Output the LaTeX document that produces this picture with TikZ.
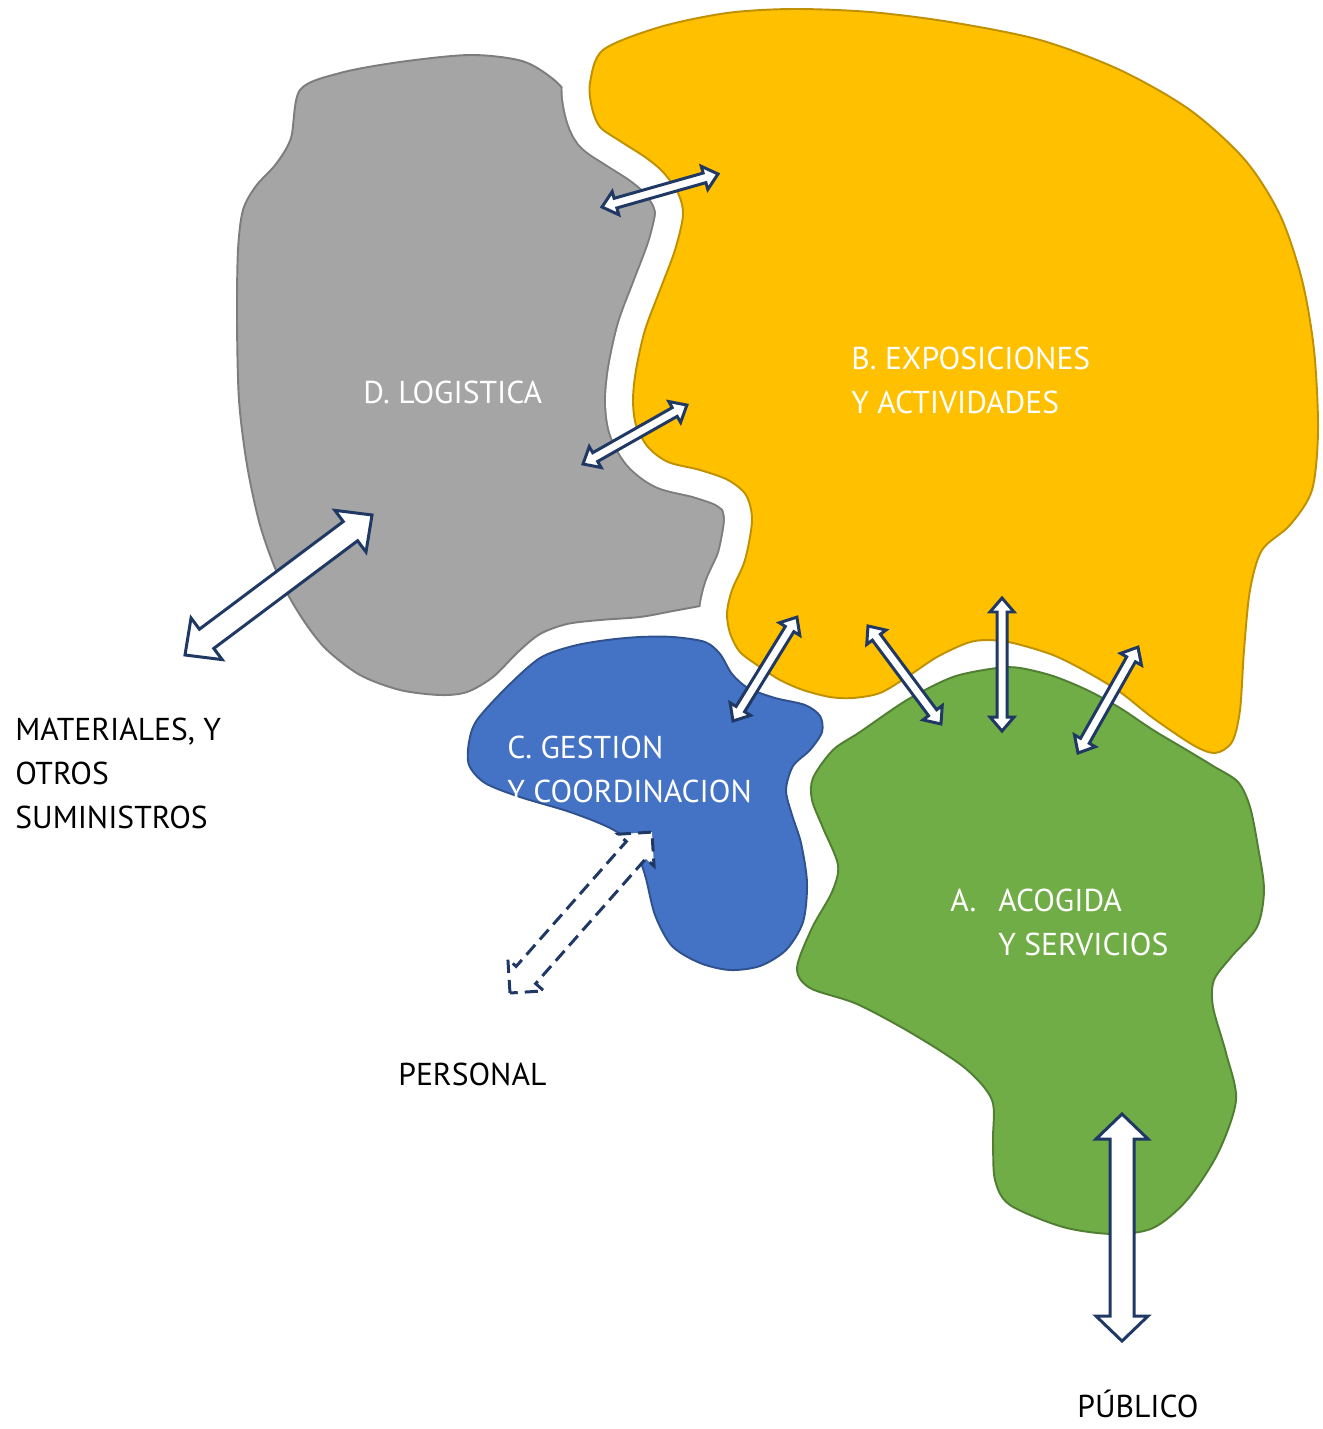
\documentclass[tikz,border=0pt]{standalone}
\usepackage{fontspec}
\setmainfont{PT Sans}
\usetikzlibrary{calc}
\definecolor{gris}{RGB}{165,165,165}
\definecolor{grisbd}{RGB}{125,125,125}
\definecolor{oro}{RGB}{255,192,0}
\definecolor{orobd}{RGB}{191,144,0}
\definecolor{azul}{RGB}{68,114,196}
\definecolor{azulbd}{RGB}{47,82,143}
\definecolor{verde}{RGB}{112,173,71}
\definecolor{verdebd}{RGB}{80,126,50}
\definecolor{marino}{RGB}{31,56,100}
\def\logistica{plot[smooth cycle] coordinates{(300,90)(340,73)(400,62)(470,55)(522,61)(553,79)(580,106)(625,140)(690,185)(710,260)(680,340)(670,420)(720,470)(765,510)(765,560)(740,598)(700,606)(673,611)(640,617)(600,620)(567,624)(540,634)(518,652)(493,677)(467,692)(440,695)(400,690)(360,675)(325,648)(300,615)(278,575)(260,525)(247,465)(239,400)(237,320)(238,250)(243,210)(256,186)(276,164)(291,138)}}
\def\exposiciones{plot[smooth cycle] coordinates{(590,83)(603,50)(660,27)(727,13)(793,9)(870,12)(950,22)(1040,40)(1120,70)(1190,110)(1245,160)(1280,215)(1302,280)(1314,350)(1318,430)(1312,490)(1290,525)(1262,550)(1250,590)(1244,650)(1240,710)(1232,742)(1215,753)(1193,745)(1153,718)(1120,692)(1087,672)(1053,655)(1013,643)(987,640)(967,643)(937,657)(907,677)(880,693)(853,698)(830,697)(803,690)(780,680)(760,667)(740,652)(730,633)(727,613)(732,590)(745,560)(752,520)(746,495)(728,480)(700,470)(668,462)(648,447)(636,425)(633,400)(636,370)(645,330)(660,290)(675,250)(683,215)(678,193)(663,172)(645,157)(620,141)(600,127)(592,108)}}
\def\gestion{plot[smooth cycle] coordinates{(477,720)(507,687)(540,658)(573,646)(607,640)(640,637)(673,637)(705,642)(720,654)(732,674)(748,688)(775,698)(805,705)(820,716)(822,732)(810,750)(793,766)(786,790)(792,815)(801,843)(807,883)(803,922)(786,950)(760,966)(730,970)(700,963)(672,946)(655,915)(645,875)(633,845)(610,828)(570,812)(520,797)(485,783)(469,765)(469,742)}}
\def\acogida{plot[smooth cycle] coordinates{(813,778)(833,750)(860,732)(907,700)(953,677)(997,668)(1020,668)(1053,676)(1087,690)(1120,708)(1153,730)(1190,752)(1213,766)(1238,782)(1250,807)(1258,847)(1264,890)(1257,927)(1232,956)(1214,980)(1213,1007)(1226,1053)(1236,1100)(1218,1153)(1187,1200)(1153,1228)(1113,1234)(1063,1227)(1010,1205)(995,1180)(993,1140)(992,1100)(965,1068)(913,1034)(857,1004)(810,988)(797,968)(812,928)(832,892)(838,865)(823,828)(812,800)}}
\newcommand\twoway[6][]{\path let \p1=(#2),\p2=(#3) in \pgfextra{\pgfmathparse{veclen(\x2-\x1,\y2-\y1)/0.569055}\xdef\alen{\pgfmathresult}\pgfmathparse{atan2(\y2-\y1,\x2-\x1)}\xdef\aang{\pgfmathresult}};
\begin{scope}[shift={(#2)},rotate=\aang,x=0.02cm,y=0.02cm]
\draw[dbl,#1](0,0)--(#6,#5)--(#6,#4)--(\alen-#6,#4)--(\alen-#6,#5)--(\alen,0)--(\alen-#6,-#5)--(\alen-#6,-#4)--(#6,-#4)--(#6,-#5)--cycle;
\end{scope}}

\begin{document}
\begin{tikzpicture}[x=0.02cm,y=-0.02cm,blob/.style={line width=1.1pt},dbl/.style={draw=marino,fill=white,line width=1.7pt,line join=miter},lbl/.style={anchor=base west,inner sep=0,align=left,font=\fontsize{18}{25}\selectfont}]
\useasboundingbox(0,0)rectangle(1322,1429);
\filldraw[blob,fill=gris,draw=grisbd]\logistica;
\begin{scope}\clip\logistica;\draw[grisbd,line width=1.08cm+2.2pt]\exposiciones;\end{scope}
\draw[white,line width=1.08cm]\exposiciones;
\filldraw[blob,fill=oro,draw=orobd]\exposiciones;
\filldraw[blob,fill=azul,draw=azulbd]\gestion;
\filldraw[blob,fill=verde,draw=verdebd]\acogida;
\node[lbl,white](dlab)at(363,403){D. LOGISTICA};
\node[lbl,white](blab)at(851,413){B. EXPOSICIONES\\Y ACTIVIDADES};
\node[lbl,white](clab)at(507,802){C. GESTION\\Y COORDINACION};
\node[lbl,white](alab)at(950,955){\makebox[0.96cm][l]{A.}ACOGIDA\\\hspace*{0.96cm}Y SERVICIOS};
\node[lbl](mat)at(15,828){MATERIALES, Y\\OTROS\\SUMINISTROS};
\node[lbl](per)at(398,1085){PERSONAL};
\node[lbl](pub)at(1077,1417){PÚBLICO};
\coordinate(dbA)at(602,207);\coordinate(dbB)at(718,174);
\coordinate(dbC)at(583,464);\coordinate(dbD)at(687,405);
\coordinate(matA)at(185,655);\coordinate(matB)at(372,515);
\coordinate(perA)at(510,993);\coordinate(perB)at(652,832);
\coordinate(cbA)at(733,721);\coordinate(cbB)at(797,617);
\coordinate(baA)at(868,626);\coordinate(baB)at(941,724);
\coordinate(baC)at(1002,598);\coordinate(baD)at(1002,731);
\coordinate(baE)at(1078,753);\coordinate(baF)at(1138,647);
\coordinate(pubA)at(1122,1114);\coordinate(pubB)at(1122,1341);
\twoway{dbA}{dbB}{5}{12}{14}
\twoway{dbC}{dbD}{5}{12}{14}
\twoway{matA}{matB}{12}{26}{27}
\twoway[dashed,dash pattern=on 7.5pt off 4pt]{perA}{perB}{13}{24}{24}
\twoway{cbA}{cbB}{5}{12}{14}
\twoway{baA}{baB}{5}{12}{14}
\twoway{baC}{baD}{5}{12}{14}
\twoway{baE}{baF}{5}{12}{14}
\twoway{pubA}{pubB}{12}{26}{25}
\end{tikzpicture}
\end{document}
